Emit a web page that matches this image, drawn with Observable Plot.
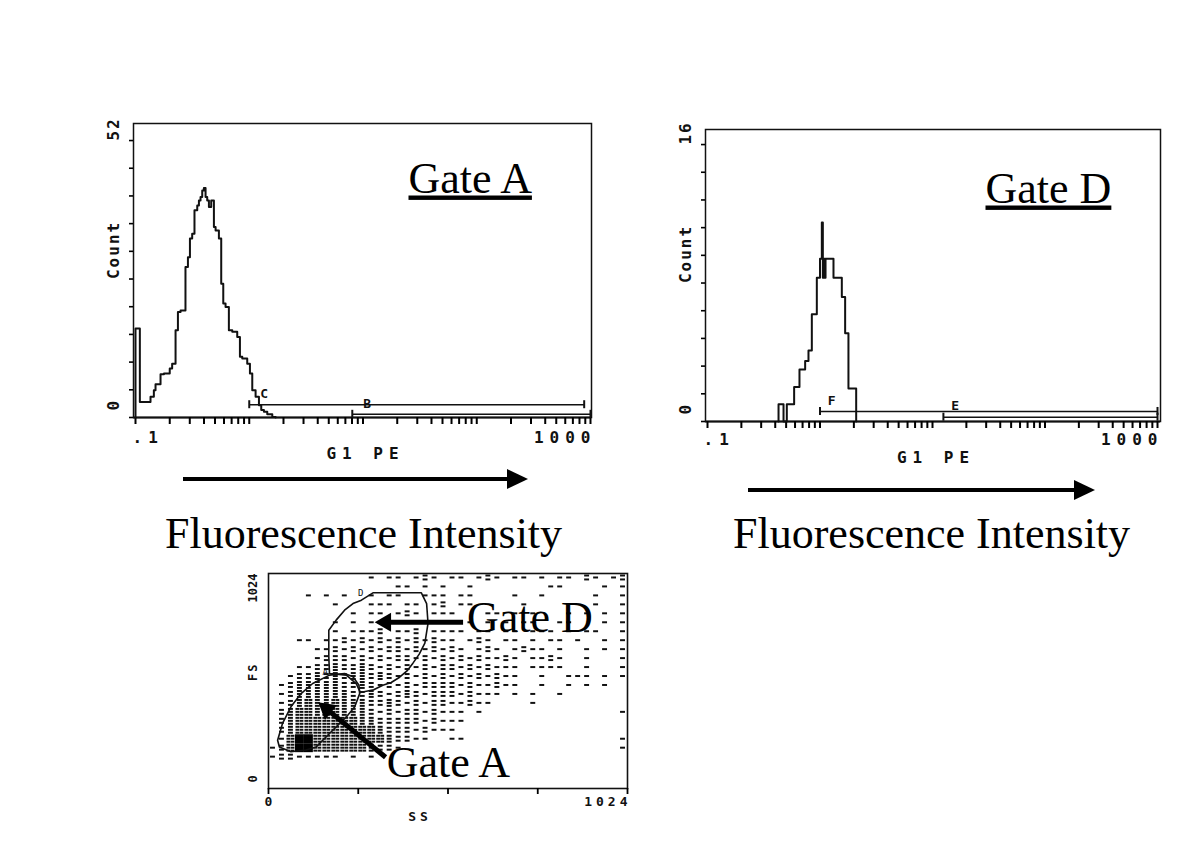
<!DOCTYPE html>
<html><head><meta charset="utf-8">
<script src="https://cdn.jsdelivr.net/npm/d3@7"></script>
<script src="https://cdn.jsdelivr.net/npm/@observablehq/plot@0.6"></script>
<style>
body{margin:0;background:#fff;}
#page{position:relative;width:1200px;height:867px;overflow:hidden;background:#fff}
.panel{position:absolute}
.panel svg{overflow:visible;background:transparent}
</style></head><body>
<div id="page">
  <div id="histA" class="panel" style="left:90px;top:110px"></div>
  <div id="histD" class="panel" style="left:660px;top:115px"></div>
  <div id="scatter" class="panel" style="left:228px;top:560px"></div>
  <svg id="deco" width="1200" height="867" style="position:absolute;left:0;top:0;pointer-events:none"></svg>
</div>
<script>
// ---------------- data ----------------
const peTicks = [0.1,0.2,0.3,0.4,0.5,0.6,0.7,0.8,0.9,1,2,3,4,5,6,7,8,9,10,20,30,40,50,60,70,80,90,100,200,300,400,500,600,700,800,900,1000];
const peTickLabelValues = [0.1, 1000];
const peTickLabelTexts = [".1", "1000"];
const xAxisTitle = "G1 PE";
const yAxisTitle = "Count";
const captionText = "Fluorescence Intensity";

// Gate A histogram (step outline, left edges of bins)
const gateA_pe = [0.1,0.1,0.1092,0.1355,0.145,0.150,0.166,0.178,0.2,0.210,0.225,0.236,0.249,0.275,0.289,0.301,0.315,0.330,0.349,0.361,0.373,0.386,0.399,0.413,0.427,0.442,0.463,0.489,0.506,0.541,0.567,0.591,0.619,0.662,0.709,0.784,0.828,0.868,0.960,1.014,1.063,1.137,1.217,1.275,1.346,1.440,1.594,1.705];
const gateA_count = [0,16.7,2.9,3.9,5.1,6.25,8.1,8.25,9.2,10.1,16.4,19.8,20.1,28.25,30.1,33.6,34.5,38.9,39.8,40.75,41.4,42.6,43.1,41.4,40.75,39.5,40.75,35.75,35.1,33.6,25.1,21.4,20.75,16.4,16.1,15.1,11.4,11.1,10.1,8.25,5.1,3.9,2.3,1.4,1.1,0.6,0.1,0];
const gateA_countTicks = [0,5.2,10.4,15.6,20.8,26,31.2,36.4,41.6,46.8,52];
const gateA_countLabels = [0, 52];
const gateA_markerNames = ["C","B"];
const gateA_markerStart = [1.0, 8.05];
const gateA_markerEnd = [880, 1000];
const gateA_markerLevel = [2.4, 0.6];
const gateA_markerLabelPE = [1.35, 10.9];
const gateA_markerLabelCount = [4.5, 2.6];

// Gate D histogram
const gateD_pe = [0.428,0.428,0.474,0.507,0.589,0.657,0.738,0.790,0.846,0.937,1.0,1.038,1.06,1.075,1.10,1.12,1.318,1.563,1.673,1.79,2.097];
const gateD_count = [0,1,0,1,2,3,3.5,4.1,6.2,8.3,9.4,11.5,8.3,9.4,8.3,9.4,8.3,7.2,5.1,1.9,0];
const gateD_countTicks = [0,1.6,3.2,4.8,6.4,8,9.6,11.2,12.8,14.4,16];
const gateD_countLabels = [0, 16];
const gateD_markerNames = ["F","E"];
const gateD_markerStart = [1.0, 12.5];
const gateD_markerEnd = [1000, 1000];
const gateD_markerLevel = [0.58, 0.25];
const gateD_markerLabelPE = [1.27, 15.9];
const gateD_markerLabelCount = [1.21, 0.92];

// Scatter (SS vs FS) density: 40 SS columns x 24 FS rows (top row = high FS)
// ' ' none, '.' one event mark, ':' two, '=' three, '#' dense, '@' saturated
const densityRows = [
"          | . .. .:. |.. .:. .. |. .. :. .:",
"          |    .. . .|  .       | ..    . .",
"    . . . | . ..  ...| ..    .  |.     .  .",
"       .  | ... .. .:| ..     . |      .  .",
"         .| .. .:. ..|.   .. . .|   . . . .",
"       . .| .. ... ..|. . . . ..|  ..   . .",
"       . .|..: ..: ..|.. .. .. .|.. . ..  .",
"   .. ..:.|:.:.:.:.:.|. .:. .. .| .. .  . .",
"     ..:.:|.:.::.:.:.|:. .:. .:.|. .  . . .",
"     .:::.|:.:.::.:.:|.:.:..:. .|.:.  .   .",
"   ..::=::|=:.:.:.:.:|:.:.:... .|...  .   .",
"  .::=:=:=|=:=:.:.:.:|.:.:.:..  |.  ... . .",
" .:=====::|=:.:.:.:::|:.:..:..  |.  . . .  ",
" .:======:|:=:.:=:.::|:.:... . .|  .       ",
" .:=#==#==|=::=:.:.::|..:..    .|          ",
" :=##=##==|=:.:.::.:.|.. .      |         .",
" :=#######|==:::::.:.|..        |          ",
" :=#######|##=:::.:..|.         |          ",
" .#@@#####|###=::..  |..        |         .",
".:#@@#####|#=::.     |          |         .",
".::..... .| .        |          |          ",
"          |          |          |          ",
"          |          |          |          ",
"          |          |          |          "
];
const ssTicks = [0, 256, 512, 768, 1024];
const scatterXLabels = [0, 1024];
const scatterYLabels = [0, 1024];

// gates drawn on the scatter
const gateD_ss = [265,298,436,451,455,446,430,412,395,374,350,326,300,262,250,222,174,172,172,193,217,241];
const gateD_fs = [897,932,932,881,787,692,640,597,560,530,505,492,470,457,500,540,548,627,754,802,849,881];
const gateA_ss = [174,217,241,258,260,246,222,174,136,107,64,31,26,40,64,93,126];
const gateA_fs = [540,548,532,492,452,389,341,262,198,183,175,198,230,310,389,452,500];
const gateTagText = ["D","A"];
const gateTagSS = [263, 162];
const gateTagFS = [930, 554];

// annotation arrows and labels on the scatter
const arrowTailSS = [555, 334];
const arrowTailFS = [792, 149];
const arrowHeadSS = [334, 166];
const arrowHeadFS = [792, 378];
const arrowAngle = [-90, -51];
const gateLabelText = ["Gate D", "Gate A"];
const gateLabelSS = [566, 337];
const gateLabelFS = [744, 54];

// ---------------- drawing ----------------
const mono = "DejaVu Sans Mono";
const serif = "Liberation Serif";

function styleGroup(svg, desc, prop, val) {
  d3.select(svg).selectAll(`g[aria-description="${desc}"] text`).style(prop, val);
}

function histogram(cfg) {
  const rows = cfg.pe.map((p, i) => ({pe: p, count: cfg.count[i]}));
  const markers = cfg.names.map((n, i) => ({name: n, start: cfg.start[i], end: cfg.end[i], level: cfg.level[i], lpe: cfg.lpe[i], lcount: cfg.lcount[i]}));
  const pxPerCount = (cfg.height - cfg.marginTop - cfg.marginBottom) / cfg.yMax;
  const half = 4 / pxPerCount;
  const ends = markers.flatMap(m => [{pe: m.start, y1: m.level - half, y2: m.level + half}, {pe: m.end, y1: m.level - half, y2: m.level + half}]);
  const tickLabels = peTickLabelValues.map((v, i) => ({pe: v, t: peTickLabelTexts[i]}));
  const yMid = (cfg.countLabels[0] + cfg.countLabels[1]) / 2;
  const svg = Plot.plot({
    width: cfg.width, height: cfg.height,
    marginLeft: cfg.marginLeft, marginRight: cfg.marginRight, marginTop: cfg.marginTop, marginBottom: cfg.marginBottom,
    x: {type: "log", domain: [0.1, 1000], insetLeft: cfg.insetLeft, insetRight: cfg.insetRight},
    y: {domain: [0, cfg.yMax]},
    marks: [
      Plot.frame({stroke: "#111", strokeWidth: 1.5}),
      Plot.ruleY([0], {stroke: "#111", strokeWidth: 2.2}),
      Plot.axisX({ticks: peTicks, tickSize: 7, tickFormat: () => "", strokeWidth: 2, label: null}),
      Plot.axisY({ticks: cfg.countTicks, tickSize: 4, tickFormat: () => "", strokeWidth: 1.6, label: null}),
      Plot.line(rows, {x: "pe", y: "count", curve: "step-after", stroke: "#111", strokeWidth: 2}),
      Plot.link(markers, {x1: "start", x2: "end", y1: "level", y2: "level", stroke: "#111", strokeWidth: 1.5}),
      Plot.ruleX(ends, {x: "pe", y1: "y1", y2: "y2", stroke: "#111", strokeWidth: 2}),
      Plot.text(markers, {x: "lpe", y: "lcount", text: "name", fontFamily: mono, fontWeight: "bold", fontSize: 13, fill: "#111"}),
      Plot.text(tickLabels.slice(0, 1), {x: "pe", text: "t", frameAnchor: "bottom", dy: cfg.tickDy, dx: cfg.startDx, textAnchor: "start", fontFamily: mono, fontWeight: "bold", fontSize: 16, fill: "#111", ariaDescription: "wide"}),
      Plot.text(tickLabels.slice(1), {x: "pe", text: "t", frameAnchor: "bottom", dy: cfg.tickDy, dx: 6, textAnchor: "end", fontFamily: mono, fontWeight: "bold", fontSize: 16, fill: "#111", ariaDescription: "wide"}),
      Plot.text([xAxisTitle], {frameAnchor: "bottom", dy: 41, dx: 3, fontFamily: mono, fontWeight: "bold", fontSize: 16, fill: "#111", ariaDescription: "wide"}),
      Plot.text([cfg.countLabels[1]], {y: d => d, text: d => String(d), frameAnchor: "left", dx: -20, rotate: -90, fontFamily: mono, fontWeight: "bold", fontSize: 16, fill: "#111", ariaDescription: "ylab"}),
      Plot.text([cfg.countLabels[0]], {y: d => d, text: d => String(d), frameAnchor: "left", dx: -20, dy: -7, rotate: -90, textAnchor: "start", fontFamily: mono, fontWeight: "bold", fontSize: 16, fill: "#111", ariaDescription: "ylab"}),
      Plot.text([yAxisTitle], {y: () => yMid, frameAnchor: "left", dx: -20, rotate: -90, fontFamily: mono, fontWeight: "bold", fontSize: 16, fill: "#111", ariaDescription: "ylab"}),
      Plot.text([cfg.title], {frameAnchor: "top-left", dx: cfg.titleDx, dy: cfg.titleDy, textAnchor: "start", lineAnchor: "bottom", fontFamily: serif, fontSize: 44, fill: "#000", ariaDescription: "gate-title"})
    ]
  });
  styleGroup(svg, "wide", "letter-spacing", "6px");
  styleGroup(svg, "ylab", "letter-spacing", "2px");
  styleGroup(svg, "gate-title", "text-decoration", "underline");
  styleGroup(svg, "gate-title", "text-decoration-thickness", "2px");
  styleGroup(svg, "gate-title", "text-underline-offset", "5px");
  document.getElementById(cfg.el).appendChild(svg);
}

histogram({
  el: "histA", pe: gateA_pe, count: gateA_count, yMax: 55.2, countTicks: gateA_countTicks, countLabels: gateA_countLabels,
  names: gateA_markerNames, start: gateA_markerStart, end: gateA_markerEnd, level: gateA_markerLevel, lpe: gateA_markerLabelPE, lcount: gateA_markerLabelCount,
  title: "Gate A", width: 520, height: 370, marginLeft: 43, marginRight: 19, marginTop: 13, marginBottom: 63,
  insetLeft: 2, insetRight: 1, tickDy: 25, startDx: -3, titleDx: 275, titleDy: 69
});
histogram({
  el: "histD", pe: gateD_pe, count: gateD_count, yMax: 16.87, countTicks: gateD_countTicks, countLabels: gateD_countLabels,
  names: gateD_markerNames, start: gateD_markerStart, end: gateD_markerEnd, level: gateD_markerLevel, lpe: gateD_markerLabelPE, lcount: gateD_markerLabelCount,
  title: "Gate D", width: 520, height: 370, marginLeft: 45, marginRight: 20, marginTop: 14, marginBottom: 64,
  insetLeft: 2, insetRight: 3, tickDy: 23, startDx: -4, titleDx: 280, titleDy: 73
});

// ---- scatter ----
const nCols = 40, nRows = 24, cellW = 1024 / nCols, cellH = 1024 / nRows;
const slotPatterns = {
  ".": {w: 0.55, slots: [[0.5, 0.5]]},
  ":": {w: 0.55, slots: [[0.5, 0.28], [0.5, 0.72]]},
  "=": {w: 0.55, slots: [[0.5, 0.17], [0.5, 0.5], [0.5, 0.83]]},
  "#": {w: 0.42, slots: [[0.27, 0.17], [0.73, 0.17], [0.27, 0.5], [0.73, 0.5], [0.27, 0.83], [0.73, 0.83]]}
};
const dashes = [], solids = [];
densityRows.forEach((row, r) => {
  [...row.replace(/\|/g, "")].forEach((ch, c) => {
    const ss0 = c * cellW, fsTop = 1024 - r * cellH;
    if (ch === "@") solids.push({x1: ss0, x2: ss0 + cellW, y1: fsTop - cellH, y2: fsTop});
    const p = slotPatterns[ch];
    if (!p) return;
    for (const [fx, fy] of p.slots) {
      const cx = ss0 + fx * cellW, cy = fsTop - fy * cellH;
      dashes.push({x1: cx - p.w * cellW / 2, x2: cx + p.w * cellW / 2, y1: cy - 0.11 * cellH, y2: cy + 0.11 * cellH});
    }
  });
});
const gateDPoly = gateD_ss.map((s, i) => ({ss: s, fs: gateD_fs[i]}));
const gateAPoly = gateA_ss.map((s, i) => ({ss: s, fs: gateA_fs[i]}));
const tags = gateTagText.map((t, i) => ({t, ss: gateTagSS[i], fs: gateTagFS[i]}));
const arrows = arrowTailSS.map((s, i) => ({tss: s, tfs: arrowTailFS[i], hss: arrowHeadSS[i], hfs: arrowHeadFS[i], a: arrowAngle[i]}));
const glabels = gateLabelText.map((t, i) => ({t, ss: gateLabelSS[i], fs: gateLabelFS[i]}));

const sc = Plot.plot({
  width: 420, height: 270, marginLeft: 40, marginRight: 21, marginTop: 13, marginBottom: 42,
  x: {domain: [0, 1024]}, y: {domain: [0, 1024], axis: null},
  marks: [
    Plot.rect(dashes, {x1: "x1", x2: "x2", y1: "y1", y2: "y2", fill: "#111"}),
    Plot.rect(solids, {x1: "x1", x2: "x2", y1: "y1", y2: "y2", fill: "#000"}),
    Plot.line(gateDPoly, {x: "ss", y: "fs", curve: "linear-closed", stroke: "#111", strokeWidth: 1.6}),
    Plot.line(gateAPoly, {x: "ss", y: "fs", curve: "linear-closed", stroke: "#111", strokeWidth: 1.6}),
    Plot.text(tags, {x: "ss", y: "fs", text: "t", fontFamily: mono, fontSize: 9, fill: "#111"}),
    Plot.link(arrows, {x1: "tss", y1: "tfs", x2: "hss", y2: "hfs", stroke: "#000", strokeWidth: 5}),
    Plot.dot(arrows, {x: "hss", y: "hfs", symbol: "triangle", r: 7, fill: "#000", stroke: "none", rotate: "a"}),
    Plot.text(glabels, {x: "ss", y: "fs", text: "t", textAnchor: "start", lineAnchor: "bottom", fontFamily: serif, fontSize: 44, fill: "#000"}),
    Plot.frame({stroke: "#111", strokeWidth: 1.6}),
    Plot.axisX({ticks: ssTicks, tickSize: 6, tickFormat: () => "", strokeWidth: 1.8, label: null}),
    Plot.text(scatterXLabels.slice(0, 1), {x: d => d, text: d => String(d), frameAnchor: "bottom", dy: 17, dx: 2, fontFamily: mono, fontWeight: "bold", fontSize: 13, fill: "#111", ariaDescription: "swide"}),
    Plot.text(scatterXLabels.slice(1), {x: d => d, text: d => String(d), frameAnchor: "bottom", dy: 17, dx: 4, textAnchor: "end", fontFamily: mono, fontWeight: "bold", fontSize: 13, fill: "#111", ariaDescription: "swide"}),
    Plot.text(["SS"], {frameAnchor: "bottom", dx: -28, dy: 32, fontFamily: mono, fontWeight: "bold", fontSize: 13, fill: "#111", ariaDescription: "swide"}),
    Plot.text(scatterYLabels.slice(1), {y: d => d, text: d => String(d), frameAnchor: "left", dx: -15, rotate: -90, textAnchor: "end", fontFamily: mono, fontWeight: "bold", fontSize: 12, fill: "#111"}),
    Plot.text(scatterYLabels.slice(0, 1), {y: d => d, text: d => String(d), frameAnchor: "left", dx: -15, dy: -6, rotate: -90, textAnchor: "start", fontFamily: mono, fontWeight: "bold", fontSize: 12, fill: "#111"}),
    Plot.text(["FS"], {y: () => 512, frameAnchor: "left", dx: -15, rotate: -90, fontFamily: mono, fontWeight: "bold", fontSize: 12, fill: "#111", ariaDescription: "sy"})
  ]
});
styleGroup(sc, "swide", "letter-spacing", "4px");
styleGroup(sc, "sy", "letter-spacing", "2px");
document.getElementById("scatter").appendChild(sc);

// ---- decorations: direction arrows + captions under histograms ----
const deco = d3.select("#deco");
const decoArrows = [{x0: 183, x1: 507, tip: 528, y: 479}, {x0: 748, x1: 1074, tip: 1095, y: 490}];
for (const a of decoArrows) {
  deco.append("line").attr("x1", a.x0).attr("x2", a.x1).attr("y1", a.y).attr("y2", a.y).attr("stroke", "#000").attr("stroke-width", 4);
  deco.append("polygon").attr("points", `${a.tip},${a.y} ${a.x1},${a.y - 10} ${a.x1},${a.y + 10}`).attr("fill", "#000");
}
for (const x of [165, 733]) {
  deco.append("text").attr("x", x).attr("y", 548).attr("font-family", serif).attr("font-size", 44).attr("fill", "#000").text(captionText);
}
</script>
</body></html>
